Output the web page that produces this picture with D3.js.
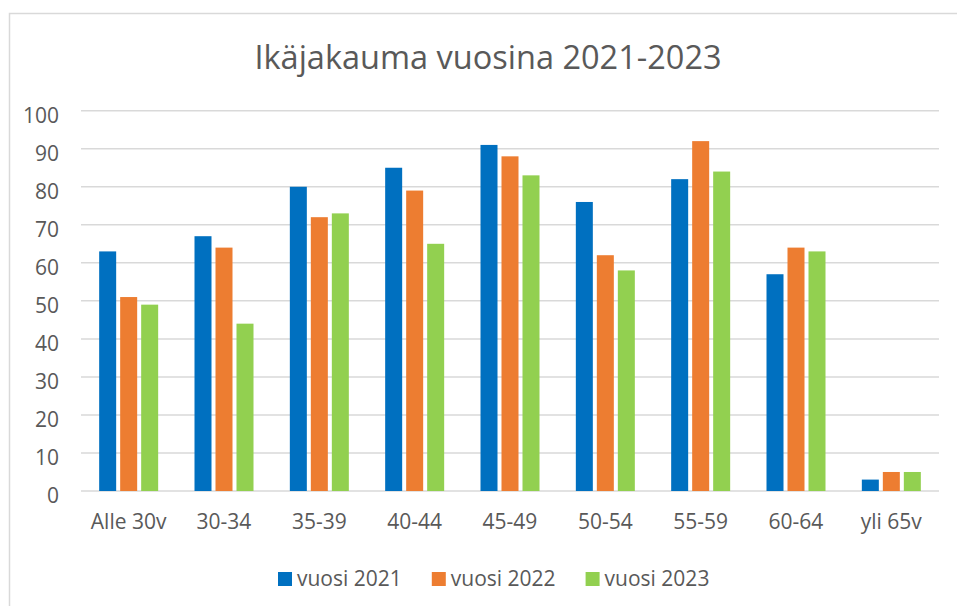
<html lang="fi">
<head>
    <meta charset="UTF-8">
    <title>Ikäjakauma vuosina 2021-2023</title>
    <style>
        body { margin: 0; background: #fff; }
        text { font-family: "Open Sans", sans-serif; fill: #595959; }
        .grid line { stroke: #d9d9d9; stroke-width: 1.5px; }
    </style>
</head>
<body>
    <svg width="957" height="606"></svg>

    <script src="https://cdn.jsdelivr.net/npm/d3@7"></script>
    <script>
        (function() {
            'use strict';

            var WIDTH = 957;
            var HEIGHT = 606;

            // data
            var categories = ["Alle 30v", "30-34", "35-39", "40-44", "45-49", "50-54", "55-59", "60-64", "yli 65v"];
            var seriesNames = ["vuosi 2021", "vuosi 2022", "vuosi 2023"];
            var v2021 = [63, 67, 80, 85, 91, 76, 82, 57, 3];
            var v2022 = [51, 64, 72, 79, 88, 62, 92, 64, 5];
            var v2023 = [49, 44, 73, 65, 83, 58, 84, 63, 5];
            var yTicks = [0, 10, 20, 30, 40, 50, 60, 70, 80, 90, 100];
            var colors = ["#0070C0", "#ED7D31", "#92D050"];

            var values = [v2021, v2022, v2023];

            var svg = d3.select("svg");

            // chart frame (cut off at right and bottom like the screenshot)
            svg.append("path")
                .attr("d", "M" + WIDTH + ",13.5H9.5V" + HEIGHT)
                .attr("fill", "none")
                .attr("stroke", "#d9d9d9")
                .attr("stroke-width", 1.5);

            svg.append("text")
                .attr("x", 488)
                .attr("y", 69)
                .attr("text-anchor", "middle")
                .attr("font-size", "32.5px")
                .text("Ikäjakauma vuosina 2021-2023");

            var x0 = d3.scaleBand()
                .domain(categories)
                .range([81, 939])
                .padding(0);

            var x1 = d3.scaleBand()
                .domain(seriesNames)
                .range([0, 59])
                .paddingInner(4 / 21)
                .paddingOuter(0);

            var y = d3.scaleLinear()
                .domain([0, 100])
                .range([491, 110.7]);

            // gridlines
            var grid = svg.append("g").attr("class", "grid");
            grid.selectAll("line")
                .data(yTicks)
                .enter()
                .append("line")
                .attr("x1", 81)
                .attr("x2", 939)
                .attr("y1", function(d) { return y(d); })
                .attr("y2", function(d) { return y(d); });

            // y tick labels
            svg.append("g").selectAll("text")
                .data(yTicks)
                .enter()
                .append("text")
                .attr("x", 59)
                .attr("y", function(d) { return y(d) + 12; })
                .attr("text-anchor", "end")
                .attr("font-size", "21px")
                .text(function(d) { return d; });

            // bars
            var groups = svg.append("g").selectAll("g")
                .data(categories)
                .enter()
                .append("g")
                .attr("transform", function(d) {
                    return "translate(" + (x0(d) + x0.bandwidth() / 2 - 59 / 2) + ",0)";
                });

            groups.selectAll("rect")
                .data(function(d, i) {
                    return seriesNames.map(function(s, j) {
                        return { name: s, value: values[j][i], color: colors[j] };
                    });
                })
                .enter()
                .append("rect")
                .attr("x", function(d) { return x1(d.name); })
                .attr("width", x1.bandwidth())
                .attr("y", function(d) { return y(d.value); })
                .attr("height", function(d) { return y(0) - y(d.value); })
                .attr("fill", function(d) { return d.color; });

            // x labels
            svg.append("g").selectAll("text")
                .data(categories)
                .enter()
                .append("text")
                .attr("x", function(d) { return x0(d) + x0.bandwidth() / 2; })
                .attr("y", 529)
                .attr("text-anchor", "middle")
                .attr("font-size", "21px")
                .text(function(d) { return d; });

            // legend
            var legend = svg.append("g");
            var lx = 278;
            seriesNames.forEach(function(s, i) {
                legend.append("rect")
                    .attr("x", lx)
                    .attr("y", 572)
                    .attr("width", 14)
                    .attr("height", 14)
                    .attr("fill", colors[i]);
                var t = legend.append("text")
                    .attr("x", lx + 19)
                    .attr("y", 586)
                    .attr("font-size", "21px")
                    .text(s);
                lx += 19 + t.node().getComputedTextLength() + 30;
            });
        })();
    </script>
</body>
</html>
